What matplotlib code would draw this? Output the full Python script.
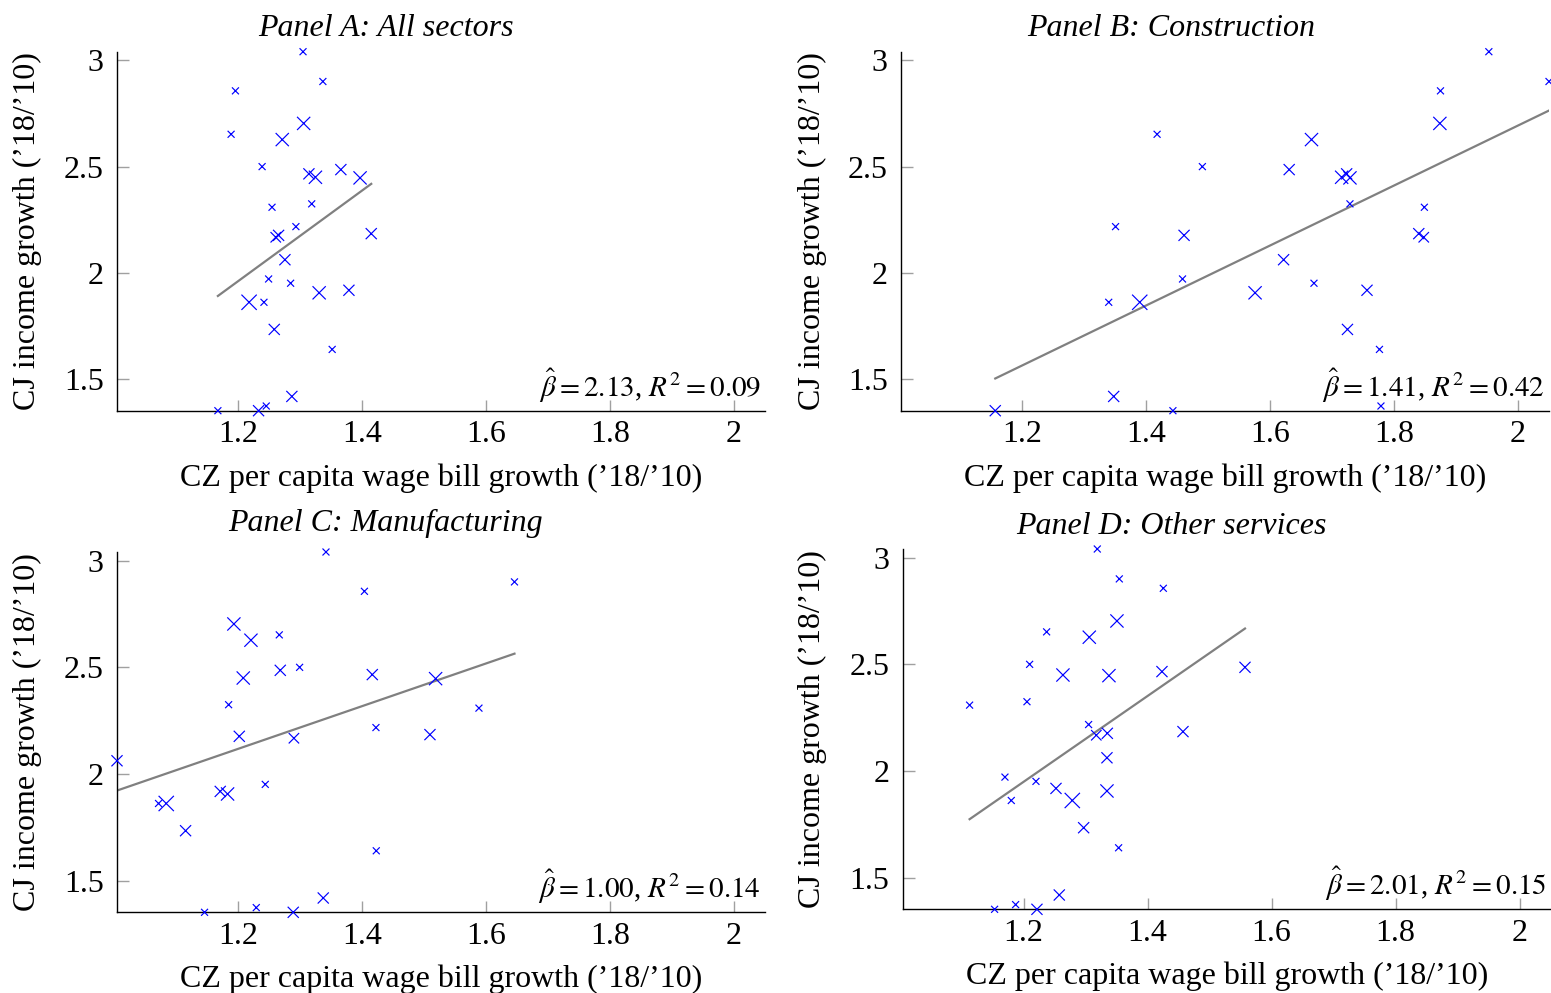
import numpy as np
import matplotlib
matplotlib.use('Agg')
import matplotlib.pyplot as plt
from matplotlib.ticker import FixedLocator, FixedFormatter

plt.rcParams['font.family'] = ['Liberation Serif', 'DejaVu Serif']
plt.rcParams['mathtext.fontset'] = 'stix'

# ---------------- data ----------------
panel_titles = ['Panel A: All sectors', 'Panel B: Construction',
                'Panel C: Manufacturing', 'Panel D: Other services']
xlabel = 'CZ per capita wage bill growth (\u201918/\u201910)'
ylabel = 'CJ income growth (\u201918/\u201910)'

# CJ income growth (same for every panel)
y_growth = [3.04, 2.90, 2.856, 2.703, 2.652, 2.627, 2.50, 2.486, 2.466, 2.45,
            2.447, 2.309, 2.325, 2.218, 2.185, 2.177, 2.168, 2.0625, 1.972, 1.952,
            1.907, 1.919, 1.8625, 1.8625, 1.735, 1.641, 1.42, 1.353, 1.353, 1.375]

# weights (marker size, points)
weights = [5, 5, 5, 9.5, 5, 9.5, 5, 8, 8, 9.5,
           9.5, 5, 5, 5, 8, 8, 7.5, 8, 5, 5,
           9.5, 8, 11, 5, 8, 5, 8, 5, 8, 5]

x_all = [1.305, 1.337, 1.196, 1.306, 1.189, 1.2715, 1.239, 1.366, 1.3145, 1.325,
         1.397, 1.255, 1.319, 1.2935, 1.415, 1.2656, 1.261, 1.2758, 1.2495, 1.285,
         1.331, 1.379, 1.218, 1.242, 1.2586, 1.352, 1.287, 1.1677, 1.2333, 1.2457]
x_constr = [1.953, 2.05, 1.875, 1.874, 1.418, 1.667, 1.491, 1.631, 1.7237, 1.7156,
            1.729, 1.849, 1.729, 1.351, 1.84, 1.4615, 1.848, 1.622, 1.459, 1.671,
            1.576, 1.7565, 1.39, 1.34, 1.725, 1.7766, 1.348, 1.4435, 1.157, 1.779]
x_manuf = [1.342, 1.646, 1.404, 1.1935, 1.2667, 1.221, 1.2995, 1.2683, 1.4167, 1.2086,
           1.5188, 1.5887, 1.185, 1.4226, 1.5097, 1.2022, 1.2903, 1.005, np.nan, 1.2441,
           1.1833, 1.1715, 1.0844, 1.072, 1.1156, 1.4231, 1.3376, 1.1462, 1.2892, 1.2296]
x_other = [1.3188, 1.3543, 1.4253, 1.3505, 1.2371, 1.3059, 1.2097, 1.557, 1.4231, 1.2634,
           1.3376, 1.1129, 1.2054, 1.3048, 1.457, 1.335, 1.3172, 1.3344, 1.1699, 1.2199,
           1.3344, 1.2522, 1.2785, 1.1801, 1.2968, 1.3532, 1.2575, 1.1532, 1.2215, 1.1871]

betas = [2.13, 1.41, 1.00, 2.01]
intercepts = [-0.595, -0.127, 0.918, -0.462]
r2s = [0.09, 0.42, 0.14, 0.15]

xticks = [1.2, 1.4, 1.6, 1.8, 2.0]
xticklabels = ['1.2', '1.4', '1.6', '1.8', '2']
yticks = [1.5, 2.0, 2.5, 3.0]
yticklabels = ['1.5', '2', '2.5', '3']

# ---------------- layout ----------------
W, H = 1551, 993
fig = plt.figure(figsize=(W / 100, H / 100), dpi=100)
FS = 23
FS_ANN = 21

# (left, top, right, bottom) in pixels
rects = [(117, 51.7, 765, 410.7), (901, 51.7, 1549, 410.7),
         (117, 552, 765, 912.3), (902.7, 549, 1550.7, 909.3)]
title_pos = [(385.5, 36), (1171, 36), (385, 531), (1171, 534)]
xlab_base = [486, 486, 987, 984]
ylab_x = [27, 812, 27, 812]

xs = [x_all, x_constr, x_manuf, x_other]
allx = np.concatenate([np.array(v, float) for v in xs])
xmin, xmax = np.nanmin(allx), np.nanmax(allx)
ymin, ymax = min(y_growth), max(y_growth)

y = np.array(y_growth)
sz = np.array(weights) ** 2

for i in range(4):
    l, t, r, b = rects[i]
    ax = fig.add_axes([l / W, 1 - b / H, (r - l) / W, (b - t) / H])
    x = np.array(xs[i], float)
    ax.scatter(x, y, s=sz, marker='x', color='#0000ff', linewidths=0.85,
               clip_on=False, zorder=3)
    xl = np.array([np.nanmin(x), np.nanmax(x)])
    ax.plot(xl, intercepts[i] + betas[i] * xl, color='#808080', lw=1.6, zorder=2)
    ax.set_xlim(xmin, xmax)
    ax.set_ylim(ymin, ymax)
    ax.xaxis.set_major_locator(FixedLocator(xticks))
    ax.xaxis.set_major_formatter(FixedFormatter(xticklabels))
    ax.yaxis.set_major_locator(FixedLocator(yticks))
    ax.yaxis.set_major_formatter(FixedFormatter(yticklabels))
    for s in ['top', 'right']:
        ax.spines[s].set_visible(False)
    for s in ['left', 'bottom']:
        ax.spines[s].set_linewidth(1.0)
        ax.spines[s].set_color('black')
    ax.tick_params(axis='both', direction='in', color='#a0a0a0', width=1.0,
                   labelsize=FS, labelcolor='black')
    ax.tick_params(axis='y', length=8.6, pad=9.5)
    ax.tick_params(axis='x', length=8.0, pad=7)
    ax.patch.set_alpha(0)
    ax.text(1 - 4 / (r - l), 14 / (b - t),
            r'$\hat{\beta} = %.2f$, $R^2 = %.2f$' % (betas[i], r2s[i]),
            transform=ax.transAxes, ha='right', va='baseline', fontsize=FS_ANN)
    tx, ty = title_pos[i]
    fig.text(tx / W, 1 - ty / H, panel_titles[i], ha='center', va='baseline',
             fontsize=FS, style='italic')
    fig.text(((l + r) / 2) / W, 1 - xlab_base[i] / H, xlabel, ha='center',
             va='baseline', fontsize=FS)
    fig.text(ylab_x[i] / W, 1 - ((t + b) / 2) / H, ylabel, ha='center',
             va='center', rotation=90, fontsize=FS)

fig.savefig('out.png', dpi=100)
